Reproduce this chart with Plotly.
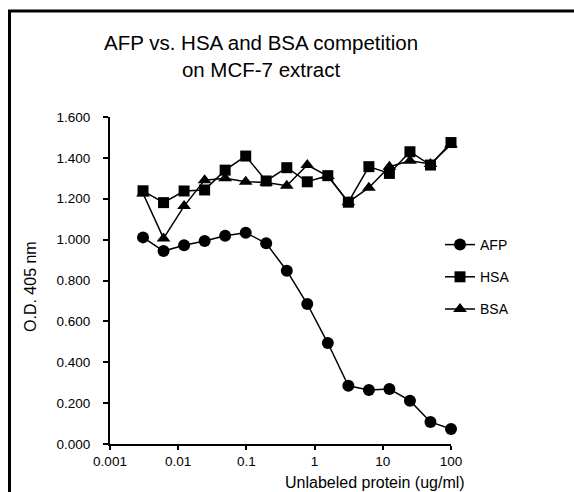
import plotly.graph_objects as go

# Unlabeled competitor concentration (ug/ml), two-fold serial dilution from 100
conc = [0.00305, 0.0061, 0.0122, 0.0244, 0.0488, 0.0977, 0.195, 0.391,
        0.781, 1.5625, 3.125, 6.25, 12.5, 25, 50, 100]

afp = [1.011, 0.944, 0.972, 0.993, 1.019, 1.034, 0.982, 0.848,
       0.685, 0.494, 0.285, 0.264, 0.269, 0.212, 0.108, 0.073]
hsa = [1.239, 1.181, 1.238, 1.243, 1.340, 1.409, 1.287, 1.352,
       1.283, 1.313, 1.183, 1.357, 1.324, 1.430, 1.365, 1.475]
bsa = [1.226, 1.006, 1.164, 1.291, 1.300, 1.283, 1.280, 1.264,
       1.365, 1.311, 1.183, 1.254, 1.357, 1.386, 1.370, 1.465]

x_tickvals = [0.001, 0.01, 0.1, 1, 10, 100]
x_ticktext = ["0.001", "0.01", "0.1", "1", "10", "100"]
y_tickvals = [0.0, 0.2, 0.4, 0.6, 0.8, 1.0, 1.2, 1.4, 1.6]

W, H = 574, 492
L, R, T, B = 110, 123, 117, 48
PW, PH = W - L - R, H - T - B


def px(x):
    return (x - L) / PW


def py(y):
    return (H - B - y) / PH


FONT = "Liberation Sans, Arial, sans-serif"

fig = go.Figure()
series = [("AFP", afp, "circle", 12), ("HSA", hsa, "square", 11),
          ("BSA", bsa, "triangle-up", 12)]
for name, vals, sym, size in series:
    fig.add_trace(go.Scatter(
        x=conc, y=vals, name=name, mode="lines+markers",
        line=dict(color="black", width=1.5),
        marker=dict(symbol=sym, size=size, color="black"),
        cliponaxis=False, legendgroup=name,
    ))

fig.update_layout(
    width=W, height=H,
    margin=dict(l=L, r=R, t=T, b=B, pad=0),
    paper_bgcolor="white", plot_bgcolor="white",
    font=dict(family=FONT, color="black", size=12),
    showlegend=True,
    legend=dict(x=px(440), y=py(229), xanchor="left", yanchor="top",
                font=dict(size=14), tracegroupgap=11,
                bgcolor="rgba(0,0,0,0)"),
    xaxis=dict(type="log", range=[-3, 2], tickvals=x_tickvals,
               ticktext=x_ticktext, showgrid=False, zeroline=False,
               showline=True, linecolor="black", linewidth=2,
               ticks="outside", ticklen=4, tickwidth=1.5, tickcolor="black",
               tickfont=dict(size=13.5)),
    yaxis=dict(range=[0, 1.6], tickvals=y_tickvals, tickformat=".3f",
               showgrid=False, zeroline=False, showline=True,
               linecolor="black", linewidth=2, ticks="outside", ticklen=5,
               tickwidth=1.5, tickcolor="black", tickfont=dict(size=13.5),
               ticklabelstandoff=10),
    annotations=[
        dict(text="AFP vs. HSA and BSA competition<br>on MCF-7 extract",
             xref="paper", yref="paper", x=px(261), y=py(56),
             xanchor="center", yanchor="middle", showarrow=False,
             font=dict(size=20.5)),
        dict(text="Unlabeled protein (ug/ml)", xref="paper", yref="paper",
             x=px(467), y=py(482), xanchor="right", yanchor="middle",
             showarrow=False, font=dict(size=16)),
        dict(text="O.D. 405 nm", xref="paper", yref="paper",
             x=px(30), y=py(287), xanchor="center", yanchor="middle",
             textangle=-90, showarrow=False, font=dict(size=16)),
    ],
    shapes=[
        dict(type="line", xref="paper", yref="paper",
             x0=px(9.5), x1=px(9.5), y0=py(10), y1=py(H + 5),
             line=dict(color="black", width=3)),
        dict(type="line", xref="paper", yref="paper",
             x0=px(8), x1=px(W + 5), y0=py(11), y1=py(11),
             line=dict(color="black", width=3)),
    ],
)

fig.write_html("out.html")
